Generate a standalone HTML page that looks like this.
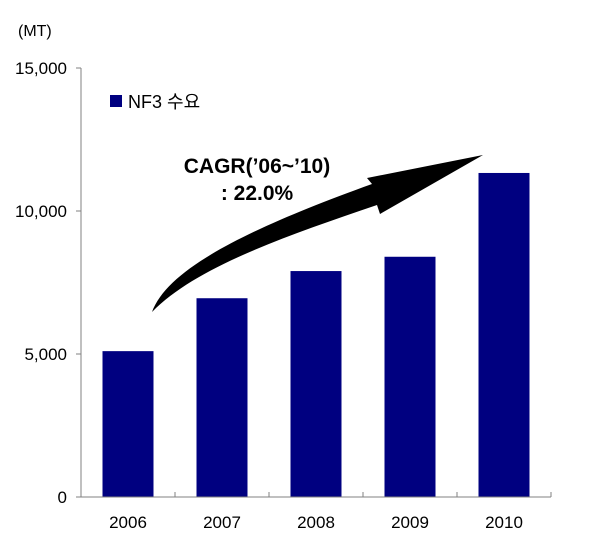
<!DOCTYPE html>
<html><head><meta charset="utf-8"><style>
body{margin:0;background:#fff}
svg text{font-family:"Liberation Sans","Noto Sans CJK KR",sans-serif}
</style></head><body>
<svg width="600" height="549">
<g id="plot"></g>
<text x="18" y="36" font-size="16">(MT)</text>
<rect x="110" y="95" width="12" height="12" fill="#000080"/>
<text x="128" y="108" font-size="18">NF3 수요</text>
<path d="M152,312 C168,268 250,228 372,184 L367,178 L483,155 L380,214 L377,205 C280,238 195,268 152,312 Z" fill="#000"/>
<text x="257" y="173" font-size="21" font-weight="bold" text-anchor="middle">CAGR(’06~’10)</text>
<text x="257" y="200" font-size="21" font-weight="bold" text-anchor="middle">: 22.0%</text>
</svg>
<script>
const categories=["2006","2007","2008","2009","2010"];
const values=[5100,6950,7900,8400,11330];
const yTicks=[0,5000,10000,15000];
const yTickLabels=["0","5,000","10,000","15,000"];
const g=document.getElementById('plot');
const NS="http://www.w3.org/2000/svg";
const x0=81,x1=551,y0=497,yTop=68,yMax=15000;
const band=(x1-x0)/categories.length;
const y=v=>y0-(v/yMax)*(y0-yTop);
function mk(t,a){const e=document.createElementNS(NS,t);for(const k in a)e.setAttribute(k,a[k]);g.appendChild(e);return e;}
values.forEach((v,i)=>{
 const b=mk('rect',{x:x0+band*i+band/2-25.5,y:y(v),width:51,height:y0-y(v),fill:'#000080'});
 
 
 const t=mk('text',{x:x0+band*i+band/2,y:528,'font-size':17,'text-anchor':'middle'});
 t.textContent=categories[i];
 
 
});
for(let i=1;i<=categories.length;i++){
 const tk=mk('line',{x1:x0+band*i,x2:x0+band*i,y1:y0,y2:y0-5,stroke:'#808080'});
 
 
}
yTicks.forEach((v,i)=>{
 const tk=mk('line',{x1:x0-5,x2:x0,y1:y(v),y2:y(v),stroke:'#808080'});
 
 
 const t=mk('text',{x:67,y:y(v)+6,'font-size':17,'text-anchor':'end'});
 t.textContent=yTickLabels[i];
 
 
});
const ya=mk('line',{x1:x0,x2:x0,y1:yTop,y2:y0,stroke:'#808080'});


const xa=mk('line',{x1:x0,x2:x1,y1:y0,y2:y0,stroke:'#808080'});


</script>
</body></html>
